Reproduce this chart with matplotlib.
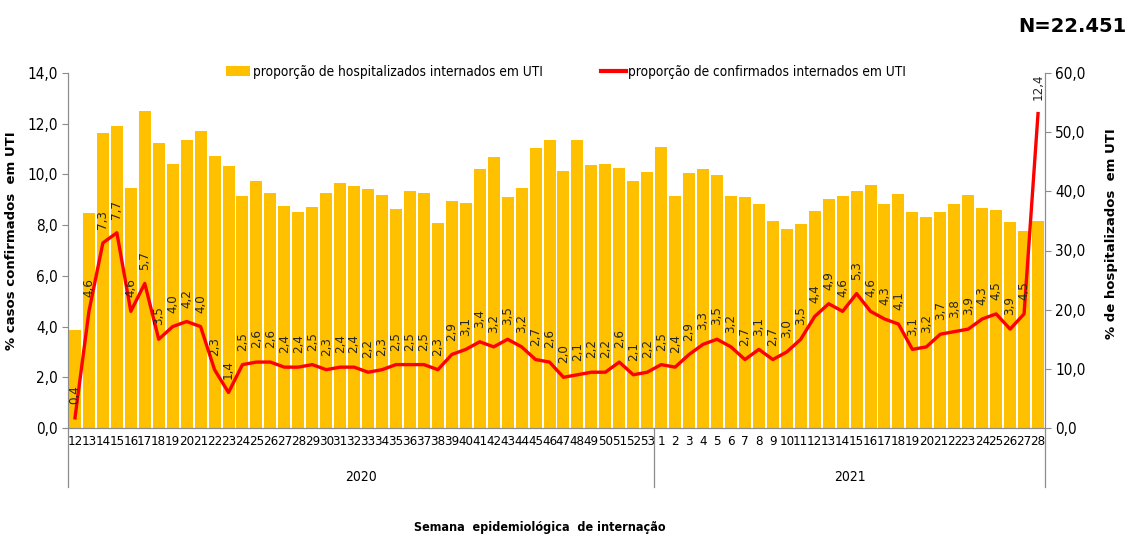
import matplotlib
matplotlib.use('Agg')
import matplotlib.pyplot as plt
from matplotlib.transforms import blended_transform_factory
from matplotlib.patches import Patch
from matplotlib.lines import Line2D
import numpy as np

weeks_2020 = list(range(12, 54))
weeks_2021 = list(range(1, 29))
week_labels = [str(w) for w in weeks_2020 + weeks_2021]
years = ['2020', '2021']

hosp_uti_2020 = [16.6, 36.3, 49.8, 51.0, 40.5, 53.6, 48.2, 44.7, 48.7, 50.2,
                 46.0, 44.3, 39.2, 41.7, 39.7, 37.6, 36.5, 37.4, 39.7, 41.4,
                 40.9, 40.4, 39.4, 37.0, 40.1, 39.8, 34.7, 38.3, 38.1, 43.7,
                 45.8, 39.1, 40.5, 47.3, 48.6, 43.5, 48.6, 44.4, 44.7, 44.0,
                 41.8, 43.2]
hosp_uti_2021 = [47.5, 39.2, 43.1, 43.8, 42.8, 39.2, 39.1, 37.9, 35.0, 33.6,
                 34.5, 36.7, 38.7, 39.2, 40.1, 41.0, 37.9, 39.6, 36.5, 35.6,
                 36.5, 37.8, 39.4, 37.1, 36.9, 34.9, 33.3, 35.0]
conf_uti_2020 = [0.4, 4.6, 7.3, 7.7, 4.6, 5.7, 3.5, 4.0, 4.2, 4.0,
                 2.3, 1.4, 2.5, 2.6, 2.6, 2.4, 2.4, 2.5, 2.3, 2.4,
                 2.4, 2.2, 2.3, 2.5, 2.5, 2.5, 2.3, 2.9, 3.1, 3.4,
                 3.2, 3.5, 3.2, 2.7, 2.6, 2.0, 2.1, 2.2, 2.2, 2.6,
                 2.1, 2.2]
conf_uti_2021 = [2.5, 2.4, 2.9, 3.3, 3.5, 3.2, 2.7, 3.1, 2.7, 3.0,
                 3.5, 4.4, 4.9, 4.6, 5.3, 4.6, 4.3, 4.1, 3.1, 3.2,
                 3.7, 3.8, 3.9, 4.3, 4.5, 3.9, 4.5, 12.4]

hosp = hosp_uti_2020 + hosp_uti_2021
conf = conf_uti_2020 + conf_uti_2021
n = len(hosp)
x = np.arange(n)

plt.rcParams['font.family'] = ['DejaVu Sans']
plt.rcParams['font.stretch'] = 'condensed'

BAR = '#FFC000'
RED = '#FF0000'
GRAY = '#8c8c8c'

def fmt(v):
    return f'{v:.1f}'.replace('.', ',')

fig = plt.figure(figsize=(11.29, 5.35), dpi=100)
ax = fig.add_axes([68/1129, 1-428/535, (1045-68)/1129, (428-73)/535])
ax2 = ax.twinx()

ax.bar(x, hosp, width=0.86, color=BAR, zorder=2)
ax.set_ylim(0, 60)
ax.set_xlim(-0.5, n - 0.5)
ax.yaxis.tick_right()
ax.yaxis.set_label_position('right')
ax.set_yticks(np.arange(0, 61, 10))
ax.set_yticklabels([fmt(v) for v in np.arange(0, 61, 10)], fontsize=11)

ax2.plot(x, conf, color=RED, lw=2.4, zorder=3, solid_joinstyle='round')
ax2.set_ylim(0, 14)
ax2.yaxis.tick_left()
ax2.yaxis.set_label_position('left')
ax2.set_yticks(np.arange(0, 15, 2))
ax2.set_yticklabels([fmt(v) for v in np.arange(0, 15, 2)], fontsize=11)

for xi, v in zip(x, conf):
    ax2.annotate(fmt(v), (xi, v), xytext=(0, 10), textcoords='offset points',
                 rotation=90, ha='center', va='bottom', fontsize=9.5,
                 color='#262626')

for a in (ax, ax2):
    a.spines['top'].set_visible(False)
    for s in ('left', 'right', 'bottom'):
        a.spines[s].set_color(GRAY)
    a.tick_params(axis='y', colors='black', length=4, color=GRAY)

ax.set_xticks(x)
ax.set_xticklabels(week_labels, fontsize=9.5)
ax.tick_params(axis='x', length=0, pad=5)

trans = blended_transform_factory(ax.transData, ax.transAxes)
for xs in (-0.5, len(weeks_2020) - 0.5, n - 0.5):
    ax.plot([xs, xs], [0, -0.166], transform=trans, color=GRAY, lw=0.9,
            clip_on=False)
ax.text((len(weeks_2020) - 1) / 2, -0.138, years[0], transform=trans,
        ha='center', va='center', fontsize=10)
ax.text(len(weeks_2020) + (len(weeks_2021) - 1) / 2, -0.138, years[1],
        transform=trans, ha='center', va='center', fontsize=10)

ax2.set_ylabel('% casos confirmados  em UTI', fontsize=9.5, fontweight='bold',
               fontstretch='normal')
ax2.yaxis.set_label_coords(-(68 - 18) / 977, (428 - 241) / 355)
ax.set_ylabel('% de hospitalizados  em UTI', fontsize=9.5, fontweight='bold',
              fontstretch='normal', rotation=90)
ax.yaxis.set_label_coords(1 + (1105 - 1045) / 977, (428 - 234) / 355)

fig.text(540/1129, 1-527/535, 'Semana  epidemiológica  de internação',
         ha='center', va='center', fontsize=9, fontweight='bold')
fig.text(1127/1129, 1-27/535, 'N=22.451', ha='right', va='center',
         fontsize=14, fontweight='bold', stretch='normal')

handles = [Patch(facecolor=BAR, edgecolor='none'),
           Line2D([0], [0], color=RED, lw=3)]
labels = ['proporção de hospitalizados internados em UTI',
          'proporção de confirmados internados em UTI']
fig.legend(handles, labels, loc='center', bbox_to_anchor=(566/1129, 1-72/535),
           ncol=2, frameon=False, fontsize=9.8, handlelength=1.8,
           handleheight=0.8, handletextpad=0.2, columnspacing=4.3,
           borderaxespad=0, borderpad=0)

fig.savefig('out.png', dpi=100)
